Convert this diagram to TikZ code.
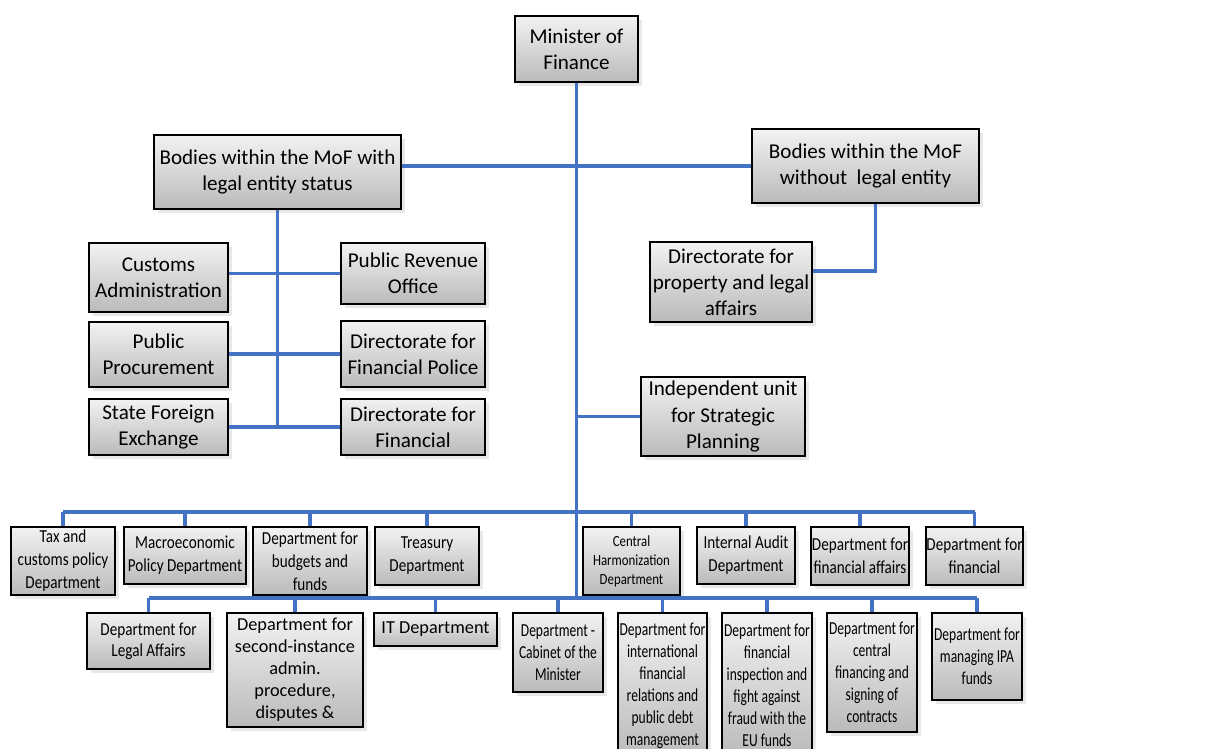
\documentclass[tikz,border=0pt]{standalone}
\usepackage{fontspec}
\setmainfont{Carlito}
\newfontfamily\narrowfont[FakeStretch=0.83]{Carlito}
\newfontfamily\slimfont[FakeStretch=0.74]{Carlito}
\usepackage{xcolor}
\usepackage{tikz}
\usetikzlibrary{positioning,shadows}

\definecolor{linkblue}{HTML}{4472C4}
\newlength{\pxu}
\setlength{\pxu}{0.025cm}
\newcommand{\fitbox}[3]{\parbox[c][#2\pxu][c]{#1\pxu}{\centering #3}}
\newcommand{\bigfont}{\fontsize{15}{18.5}\selectfont}
\newcommand{\rowfont}{\narrowfont\fontsize{13}{16.4}\selectfont}
\newcommand{\harmfont}{\narrowfont\fontsize{11}{13.5}\selectfont}
\newcommand{\legfont}{\narrowfont\fontsize{13}{15}\selectfont}
\newcommand{\midfont}{\fontsize{13}{15.6}\selectfont}
\newcommand{\slimrow}{\slimfont\fontsize{13}{15.6}\selectfont}

\tikzset{
    unit/.style={draw=black, line width=1.3pt, inner sep=0pt, top color=black!5, bottom color=black!27,
        drop shadow={shadow xshift=3pt, shadow yshift=-3pt, opacity=0.18}},
    link/.style={draw=linkblue, line width=2.2pt},
}

\begin{document}
\begin{tikzpicture}[x=0.025cm, y=-0.025cm]
    \useasboundingbox (0,0) rectangle (1218,749);

    % Minister
    \node[unit, font=\bigfont] (mof) at (576.5,49) {\fitbox{123}{66}{Minister of\\Finance}};

    % Bodies
    \node[unit, font=\bigfont] (legal) at (277.5,172) {\fitbox{247}{74}{Bodies within the MoF with\\legal entity status}};
    \node[unit, font=\bigfont] (nolegal) at (865.5,166) {\fitbox{227}{74}{Bodies within the MoF\\without\ \ legal entity}};
    \node[unit, font=\bigfont] (property) at (731,282) {\fitbox{162}{80}{Directorate for\\property and legal\\affairs}};

    % Bodies with legal entity status
    \node[unit, font=\bigfont] (customs) at (158.5,277.5) {\fitbox{139}{69}{Customs\\Administration}};
    \node[unit, font=\bigfont] (revenue) at (413,273.5) {\fitbox{144}{61}{Public Revenue\\Office}};
    \node[unit, font=\bigfont] (procure) at (158.5,354.5) {\fitbox{139}{65}{Public\\Procurement}};
    \node[unit, font=\bigfont] (police) at (413,354) {\fitbox{144}{66}{Directorate for\\Financial Police}};
    \node[unit, font=\bigfont] (foreign) at (158.5,427) {\fitbox{139}{56}{State Foreign\\Exchange}};
    \node[unit, font=\bigfont] (finint) at (413,427) {\fitbox{144}{56}{Directorate for\\Financial}};

    % Strategic planning
    \node[unit, font=\bigfont] (strategic) at (723,416.5) {\fitbox{164}{79}{Independent unit\\for Strategic\\Planning}};

    % First row of departments
    \node[unit, font=\rowfont] (taxpol) at (63,561) {\fitbox{104}{68}{Tax and\\customs policy\\Department}};
    \node[unit, font=\rowfont] (macro) at (185,555.5) {\fitbox{122}{57}{Macroeconomic\\Policy Department}};
    \node[unit, font=\rowfont] (budgets) at (310,561) {\fitbox{114}{68}{Department for\\budgets and\\funds}};
    \node[unit, font=\rowfont] (treasury) at (427,556) {\fitbox{104}{58}{Treasury\\Department}};
    \node[unit, font=\harmfont] (harmon) at (631.5,561) {\fitbox{97}{68}{Central\\Harmonization\\Department}};
    \node[unit, font=\rowfont] (audit) at (746,555.5) {\fitbox{98}{57}{Internal Audit\\Department}};
    \node[unit, font=\rowfont] (finaff) at (860,556) {\fitbox{98}{58}{Department for\\financial affairs}};
    \node[unit, font=\rowfont] (finother) at (974.5,556) {\fitbox{97}{58}{Department for\\financial}};

    % Second row of departments
    \node[unit, font=\legfont] (legalaff) at (148.5,641) {\fitbox{123}{56}{Department for\\Legal Affairs}};
    \node[unit, font=\midfont] (secinst) at (295,670) {\fitbox{136}{114}{Department for\\second-instance\\admin.\\procedure,\\disputes \&}};
    \node[unit, font=\midfont] (itdept) at (435.5,629.5) {\fitbox{123}{33}{IT Department}};
    \node[unit, font=\slimrow] (cabinet) at (558,652.5) {\fitbox{90}{79}{Department -\\Cabinet of the\\Minister}};
    \node[unit, font=\slimrow] (intl) at (662.5,685.5) {\fitbox{89}{145}{Department for\\international\\financial\\relations and\\public debt\\management}};
    \node[unit, font=\slimrow] (fraud) at (767,685.5) {\fitbox{90}{145}{Department for\\financial\\inspection and\\fight against\\fraud with the\\EU funds}};
    \node[unit, font=\slimrow] (central) at (872,672.5) {\fitbox{90}{119}{Department for\\central\\financing and\\signing of\\contracts}};
    \node[unit, font=\slimrow] (ipa) at (977,656.5) {\fitbox{90}{87}{Department for\\managing IPA\\funds}};

    % Buses
    \coordinate (bus1) at (577,512);
    \coordinate (bus2) at (577,598);

    % Main trunk
    \draw[link] (mof.south) -- (mof.south |- bus2);
    \draw[link] (nolegal.west) -- (nolegal.west -| legal.east);
    \draw[link] ([xshift=10\pxu]nolegal.south) |- ([yshift=11\pxu]property.east);
    \draw[link] (strategic.west) -- (strategic.west -| mof.south);

    % Legal entity branch
    \draw[link] (legal.south) -- (legal.south |- finint.west);
    \draw[link] (revenue.west) -- (revenue.west -| customs.east);
    \draw[link] (police.west) -- (police.west -| procure.east);
    \draw[link] (finint.west) -- (foreign.east);

    % Department rows
    \draw[link] (taxpol.north |- bus1) -- (finother.north |- bus1);
    \foreach \d in {taxpol,macro,budgets,treasury,harmon,audit,finaff,finother}
        \draw[link] (\d.north |- bus1) -- (\d.north);
    \draw[link] (legalaff.north |- bus2) -- (ipa.north |- bus2);
    \foreach \d in {legalaff,secinst,itdept,cabinet,intl,fraud,central,ipa}
        \draw[link] (\d.north |- bus2) -- (\d.north);
\end{tikzpicture}
\end{document}
